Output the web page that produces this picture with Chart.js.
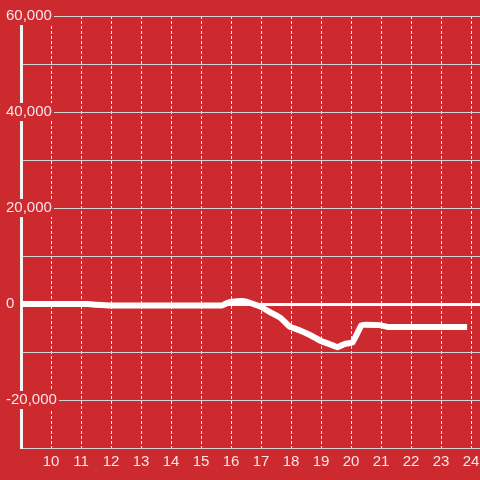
<!DOCTYPE html>
<html>
<head>
<meta charset="utf-8">
<script src="https://cdn.jsdelivr.net/npm/chart.js@4"></script>
<style>
  html, body { margin: 0; padding: 0; background: #cd2a2f; }
  canvas { display: block; }
</style>
</head>
<body>
<canvas id="myChart" width="480" height="480"></canvas>
<script>
// hour of day and the value
const hours = [9, 11.2, 11.5, 12, 15.7, 15.95, 16.2, 16.45, 16.65, 17, 17.3, 17.65, 17.95, 18.3, 18.65, 19, 19.3, 19.55, 19.8, 20.05, 20.35, 20.5, 20.95, 21.25, 23.87];
const values = [0, 0, -150, -300, -300, 400, 600, 600, 200, -600, -1700, -2900, -4700, -5500, -6500, -7700, -8400, -9000, -8300, -8000, -4400, -4300, -4400, -4800, -4800];
const yLabelValues = [-20000, 0, 20000, 40000, 60000];

const bg = "#cd2a2f";
const textColor = "rgba(255,255,255,0.88)";

var points = [];
for (let i = 0; i < hours.length; i++) {
  points.push({ x: hours[i], y: values[i] });
}

var ctx = document.getElementById("myChart").getContext("2d");
var myChart = new Chart(ctx, {
  type: "line",
  data: {
    datasets: [
      {
        data: points,
        borderColor: "#ffffff",
        borderWidth: 6,
        pointRadius: 0,
        tension: 0.1,
        fill: false,
      },
    ],
  },
  options: {
    responsive: false,
    animation: false,
    layout: { padding: { top: 16, right: 0, left: 0, bottom: 0 } },
    plugins: { legend: { display: false }, tooltip: { enabled: false } },
    scales: {
      x: {
        type: "linear",
        min: 9,
        max: 24.3,
        afterFit: function (scale) {
          scale.height = 32;
          scale.paddingLeft = 0;
          scale.paddingRight = 0;
        },
        ticks: {
          stepSize: 1,
          includeBounds: false,
          color: textColor,
          padding: 5,
          maxRotation: 0,
          autoSkip: false,
          font: { family: "Liberation Sans", size: 15 },
          callback: function (v) {
            return v < 10 ? "" : String(v);
          },
        },
        grid: { color: "#ececec", lineWidth: 1, drawTicks: false },
        border: { color: "#d4d4d4", width: 1, dash: [3, 2] },
      },
      y: {
        min: -30000,
        max: 60000,
        afterFit: function (scale) {
          scale.width = 21;
          scale.paddingTop = 0;
          scale.paddingBottom = 0;
        },
        ticks: {
          stepSize: 10000,
          color: textColor,
          mirror: true,
          padding: -15,
          font: { family: "Liberation Sans", size: 15 },
          showLabelBackdrop: function (c) {
            return yLabelValues.indexOf(c.tick.value) >= 0;
          },
          backdropColor: bg,
          backdropPadding: { left: 2, right: 2, top: 0, bottom: 0 },
          callback: function (v) {
            return yLabelValues.indexOf(v) >= 0 ? v.toLocaleString("en-US") : "";
          },
        },
        grid: {
          drawTicks: false,
          color: function (c) {
            return c.tick && c.tick.value === 0 ? "#ffffff" : "#d4d4d4";
          },
          lineWidth: function (c) {
            return c.tick && c.tick.value === 0 ? 3 : 1;
          },
        },
        border: { color: "#f4f4f4", width: 3 },
      },
    },
  },
});
</script>
</body>
</html>
